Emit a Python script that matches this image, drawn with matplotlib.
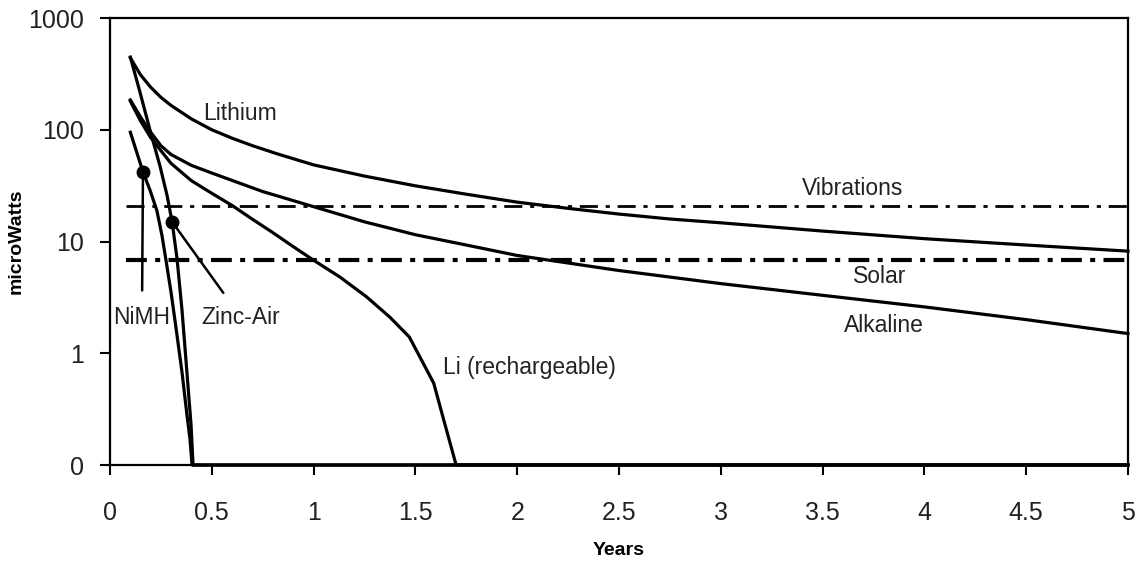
import numpy as np
import matplotlib
matplotlib.use("Agg")
import matplotlib.pyplot as plt

plt.rcParams['font.family'] = ['Liberation Sans', 'DejaVu Sans']

# Power sources over time (years -> microWatts)
lithium_x = [0.1, 0.15, 0.2, 0.25, 0.3, 0.4, 0.5, 0.6, 0.7, 0.82, 1.0, 1.25, 1.5,
             1.75, 2.0, 2.25, 2.5, 2.75, 3.0, 3.5, 4.0, 4.5, 5.0]
lithium_y = [440, 310, 240, 195, 165, 125, 100, 84, 72, 61, 48.5, 38.5, 31.5,
             26.5, 22.5, 19.8, 17.6, 15.9, 14.7, 12.4, 10.6, 9.3, 8.2]

alkaline_x = [0.1, 0.15, 0.2, 0.25, 0.3, 0.4, 0.5, 0.75, 1.0, 1.25, 1.5, 1.75, 2.0,
              2.5, 3.0, 3.5, 4.0, 4.5, 5.0]
alkaline_y = [185, 130, 95, 72, 60, 48, 41, 28, 20.5, 15, 11.5, 9.3, 7.5,
              5.5, 4.2, 3.3, 2.6, 2.0, 1.5]

li_rech_x = [0.1, 0.15, 0.2, 0.25, 0.3, 0.4, 0.5, 0.6, 0.7, 0.8, 0.9, 1.0, 1.13, 1.26,
             1.375, 1.47, 1.53, 1.59, 1.64, 1.7, 1.75, 5.0]
li_rech_y = [180, 120, 85, 65, 50, 35, 27, 21, 15.8, 12, 9, 6.8, 4.8, 3.2,
             2.1, 1.4, 0.87, 0.54, 0.25, 0.1, 0.1, 0.1]

nimh_x = [0.1, 0.162, 0.196, 0.23, 0.255, 0.275, 0.3, 0.324, 0.354, 0.378, 0.393,
          0.403, 0.42, 5.0]
nimh_y = [95, 42, 29, 19, 11.4, 6.8, 3.5, 1.7, 0.67, 0.28, 0.17,
          0.1, 0.1, 0.1]

zinc_x = [0.1, 0.147, 0.196, 0.246, 0.28, 0.305, 0.329, 0.354, 0.378, 0.398, 0.408,
          0.43, 5.0]
zinc_y = [447, 218, 100, 47, 26, 15, 7.1, 2.4, 0.67, 0.23, 0.1,
          0.1, 0.1]

# constant harvesting sources
vib_x = [0.08, 5.0]
vib_y = [20.9, 20.9]
solar_x = [0.08, 5.0]
solar_y = [6.9, 6.9]

x_ticks = [0, 0.5, 1, 1.5, 2, 2.5, 3, 3.5, 4, 4.5, 5]
x_labels = ['0', '0.5', '1', '1.5', '2', '2.5', '3', '3.5', '4', '4.5', '5']
y_ticks = [0.1, 1, 10, 100, 1000]
y_labels = ['0', '1', '10', '100', '1000']

fig = plt.figure(figsize=(11.41, 5.70), dpi=100)
ax = fig.add_axes([0.0964, 0.1842, 0.8922, 0.7842])

lw = 2.3
for xs, ys in [(lithium_x, lithium_y), (alkaline_x, alkaline_y), (li_rech_x, li_rech_y),
               (nimh_x, nimh_y), (zinc_x, zinc_y)]:
    ax.plot(xs, ys, color='black', lw=lw, clip_on=False, solid_joinstyle='round')

# markers where the labels point
ax.plot(nimh_x[1], nimh_y[1], 'o', color='black', ms=9)
ax.plot(zinc_x[5], zinc_y[5], 'o', color='black', ms=9)

ax.plot(vib_x, vib_y, color='black', lw=2.0, linestyle=(0, (6.5, 2.8, 1.5, 2.8)))
ax.plot(solar_x, solar_y, color='black', lw=3.0, linestyle=(0, (5, 2, 1.2, 2)))

ax.set_yscale('log')
ax.set_xlim(0, 5)
ax.set_ylim(0.1, 1000)
ax.set_xticks(x_ticks)
ax.set_xticklabels(x_labels)
ax.set_yticks(y_ticks)
ax.set_yticklabels(y_labels)
ax.minorticks_off()
ax.tick_params(direction='out', length=7, width=1.5, labelsize=18, colors='black',
               labelcolor='#222222')
ax.tick_params(axis='x', pad=19)
ax.tick_params(axis='y', pad=12)
for s in ax.spines.values():
    s.set_linewidth(1.6)

ax.set_xlabel('Years', fontsize=14, fontweight='bold', labelpad=12)
ax.set_ylabel('microWatts', fontsize=14, fontweight='bold', labelpad=2)

txt = dict(fontsize=16.5, color='#222222', ha='center', va='center')
ax.text(0.64, 141, 'Lithium', **txt)
ax.text(3.645, 30, 'Vibrations', **txt)
ax.text(3.78, 4.9, 'Solar', **txt)
ax.text(3.80, 1.79, 'Alkaline', **txt)
ax.text(2.06, 0.74, 'Li (rechargeable)', **txt)

ax.annotate('NiMH', xy=(nimh_x[1], nimh_y[1]), xytext=(0.157, 2.1),
            arrowprops=dict(arrowstyle='-', color='black', lw=1.8, shrinkA=9, shrinkB=0),
            **txt)
ax.annotate('Zinc-Air', xy=(zinc_x[5], zinc_y[5]), xytext=(0.643, 2.1),
            arrowprops=dict(arrowstyle='-', color='black', lw=1.8, shrinkA=9, shrinkB=0),
            **txt)

fig.savefig('out.png', dpi=100)
